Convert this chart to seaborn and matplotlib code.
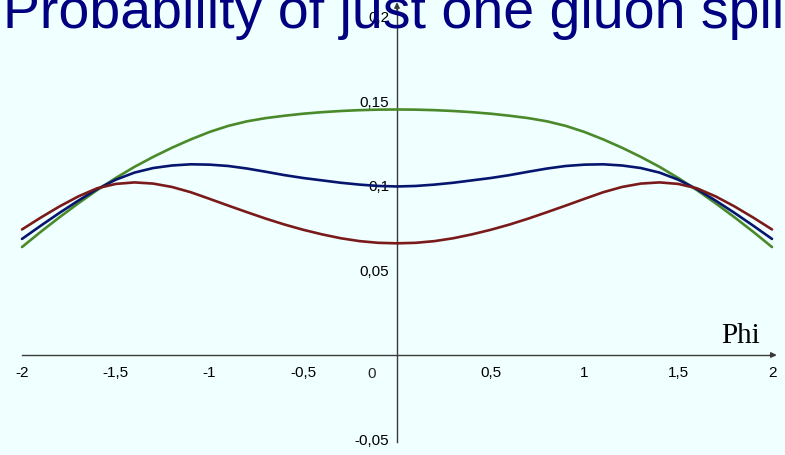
import matplotlib
matplotlib.use("Agg")
import matplotlib.pyplot as plt
from matplotlib.ticker import MultipleLocator, FuncFormatter
import seaborn as sns
import pandas as pd

# values
phi = [-2.0, -1.9, -1.8, -1.7, -1.6, -1.5, -1.4, -1.3, -1.2, -1.1, -1.0,
       -0.9, -0.8, -0.7, -0.6, -0.5, -0.4, -0.3, -0.2, -0.1, 0.0,
       0.1, 0.2, 0.3, 0.4, 0.5, 0.6, 0.7, 0.8, 0.9, 1.0,
       1.1, 1.2, 1.3, 1.4, 1.5, 1.6, 1.7, 1.8, 1.9, 2.0]

green = [0.0638, 0.0728, 0.0814, 0.0896, 0.0974, 0.1046, 0.1112, 0.1171, 0.1225, 0.1274, 0.1318,
         0.1354, 0.1381, 0.1400, 0.1414, 0.1426, 0.1435, 0.1442, 0.1447, 0.1450, 0.1451,
         0.1450, 0.1447, 0.1442, 0.1435, 0.1426, 0.1414, 0.1400, 0.1381, 0.1354, 0.1318,
         0.1274, 0.1225, 0.1171, 0.1112, 0.1046, 0.0974, 0.0896, 0.0814, 0.0728, 0.0638]

navy = [0.0686, 0.0764, 0.0840, 0.0912, 0.0980, 0.1036, 0.1078, 0.1105, 0.1120, 0.1127, 0.1125,
        0.1117, 0.1102, 0.1083, 0.1063, 0.1046, 0.1032, 0.1018, 0.1007, 0.0999, 0.0996,
        0.0999, 0.1007, 0.1018, 0.1032, 0.1046, 0.1063, 0.1083, 0.1102, 0.1117, 0.1125,
        0.1127, 0.1120, 0.1105, 0.1078, 0.1036, 0.0980, 0.0912, 0.0840, 0.0764, 0.0686]

red = [0.0742, 0.0812, 0.0878, 0.0937, 0.0985, 0.1011, 0.1020, 0.1013, 0.0993, 0.0962, 0.0923,
       0.0883, 0.0844, 0.0806, 0.0771, 0.0740, 0.0713, 0.0690, 0.0673, 0.0663, 0.0660,
       0.0663, 0.0673, 0.0690, 0.0713, 0.0740, 0.0771, 0.0806, 0.0844, 0.0883, 0.0923,
       0.0962, 0.0993, 0.1013, 0.1020, 0.1011, 0.0985, 0.0937, 0.0878, 0.0812, 0.0742]

x_ticks = [-2, -1.5, -1, -0.5, 0.5, 1, 1.5, 2]
y_ticks = [-0.05, 0.05, 0.1, 0.15, 0.2]

title = "Probability of just one gluon split"

df = pd.concat([
    pd.DataFrame({"phi": phi, "p": green, "curve": "green"}),
    pd.DataFrame({"phi": phi, "p": navy, "curve": "navy"}),
    pd.DataFrame({"phi": phi, "p": red, "curve": "red"}),
])

bg = "#F0FFFF"
sns.set_style("white", {"axes.facecolor": bg, "figure.facecolor": bg})
plt.rcParams["font.family"] = ["Liberation Sans", "DejaVu Sans"]

fig = plt.figure(figsize=(7.85, 4.55), dpi=100)
fig.patch.set_facecolor(bg)
ax = fig.add_axes([0, 0, 1, 1])
ax.set_facecolor(bg)

palette = {"green": "#4A8A2A", "navy": "#06166E", "red": "#7A1A1A"}
sns.lineplot(data=df, x="phi", y="p", hue="curve", palette=palette,
             linewidth=1.9, legend=False, ax=ax, zorder=3)

ax.set_xlim(-2.1173, 2.0693)
ax.set_ylim(-0.0591, 0.2098)
ax.set_xlabel("")
ax.set_ylabel("")

## axes through the origin ##
axis_col = "#3a3a3a"
for s in ["top", "right"]:
    ax.spines[s].set_visible(False)
ax.spines["left"].set_position(("data", 0))
ax.spines["bottom"].set_position(("data", 0))
ax.spines["left"].set_bounds(-0.0515, 0.205)
ax.spines["bottom"].set_bounds(-2, 2.01)
for s in ["left", "bottom"]:
    ax.spines[s].set_color(axis_col)
    ax.spines[s].set_linewidth(1.0)

ax.annotate("", xy=(2.025, 0), xytext=(1.99, 0),
            arrowprops=dict(arrowstyle="-|>", color=axis_col, lw=1.0,
                            mutation_scale=8, shrinkA=0, shrinkB=0))
ax.annotate("", xy=(0, 0.2085), xytext=(0, 0.203),
            arrowprops=dict(arrowstyle="-|>", color=axis_col, lw=1.0,
                            mutation_scale=8, shrinkA=0, shrinkB=0))

fmt = FuncFormatter(lambda v, pos: "{:g}".format(v).replace(".", ","))
ax.set_xticks(x_ticks)
ax.set_yticks(y_ticks)
ax.xaxis.set_major_formatter(fmt)
ax.yaxis.set_major_formatter(fmt)
ax.xaxis.set_minor_locator(MultipleLocator(0.1))
ax.yaxis.set_minor_locator(MultipleLocator(0.01))
ax.tick_params(which="major", direction="inout", length=7, width=0.9,
               color=axis_col, labelsize=11, labelcolor="black")
ax.tick_params(which="minor", direction="inout", length=3, width=0.8, color=axis_col)
ax.tick_params(axis="x", which="major", pad=4.5)
ax.tick_params(axis="y", which="major", pad=2)
for lab in ax.get_yticklabels():
    lab.set_zorder(5)

ax.annotate("0", xy=(0, 0), xytext=(-18, -9), textcoords="offset points",
            ha="center", va="top", fontsize=11)

ax.text(1.935, 0.0071, "Phi", family=["Liberation Serif", "DejaVu Serif"], fontsize=21,
        ha="right", va="baseline", color="black")

fig.text(0.004, 1 - 28 / 455, title, fontsize=40, color="#000080",
         ha="left", va="baseline")

plt.savefig("out.png", dpi=100, facecolor=bg)
